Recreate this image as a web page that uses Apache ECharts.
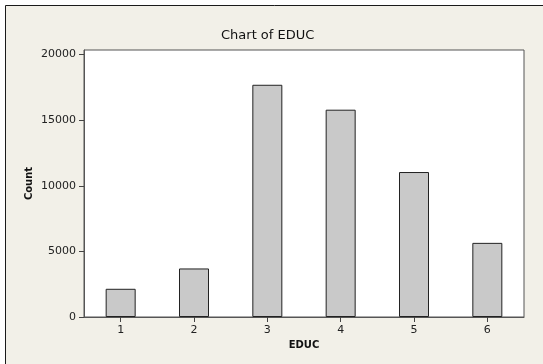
<!DOCTYPE html>
<html>
<head>
<meta charset="utf-8">
<script src="https://cdn.jsdelivr.net/npm/echarts@6/dist/echarts.min.js"></script>
<style>
html,body{margin:0;padding:0;background:#ffffff;}
#chart{width:543px;height:364px;}
</style>
</head>
<body>
<div id="chart"></div>
<script>
const categories = ['1', '2', '3', '4', '5', '6'];
const counts = [2150, 3700, 17700, 15800, 11050, 5650];
const yTicks = [0, 5000, 10000, 15000, 20000];

const chart = echarts.init(document.getElementById('chart'), null, {renderer: 'canvas'});
const fontFam = '"DejaVu Sans", Verdana, sans-serif';
chart.setOption({
  animation: false,
  backgroundColor: '#ffffff',
  graphic: [{
    type: 'rect', z: -10, silent: true,
    shape: {x: 5.5, y: 5.5, width: 600, height: 400},
    style: {fill: '#f2f0e8', stroke: '#1a1a1a', lineWidth: 1}
  }],
  title: {
    text: 'Chart of EDUC',
    left: 216, top: 24,
    textStyle: {fontFamily: fontFam, fontSize: 13, fontWeight: 'normal', color: '#111'}
  },
  grid: {
    left: 84, right: 19, top: 50, bottom: 47,
    show: true, backgroundColor: '#ffffff', borderColor: '#555', borderWidth: 1
  },
  xAxis: {
    type: 'category',
    data: categories,
    boundaryGap: true,
    name: 'EDUC',
    nameLocation: 'middle',
    nameGap: 23,
    nameTextStyle: {fontFamily: fontFam, fontSize: 10, fontWeight: 'bold', color: '#111'},
    axisLine: {show: true, lineStyle: {color: '#555', width: 1}},
    axisTick: {show: true, alignWithLabel: true, length: 5, lineStyle: {color: '#444'}},
    axisLabel: {fontFamily: fontFam, fontSize: 11, color: '#222', margin: 8},
    splitLine: {show: false}
  },
  yAxis: {
    type: 'value',
    min: 0, max: 20350,
    name: 'Count',
    nameLocation: 'middle',
    nameGap: 50,
    nameMoveOverlap: false,
    nameTextStyle: {fontFamily: fontFam, fontSize: 10, fontWeight: 'bold', color: '#111'},
    axisLine: {show: true, lineStyle: {color: '#555', width: 1}},
    axisTick: {show: true, inside: false, length: 5, lineStyle: {color: '#444', width: 1}, customValues: yTicks},
    axisLabel: {fontFamily: fontFam, fontSize: 11, color: '#222', margin: 8, customValues: yTicks,
      formatter: function (v) { return String(v); }},
    splitLine: {show: false}
  },
  series: [{
    type: 'bar',
    data: counts,
    barWidth: 30,
    itemStyle: {color: '#c9c9c9', borderColor: '#222', borderWidth: 1}
  }]
});
</script>
</body>
</html>
